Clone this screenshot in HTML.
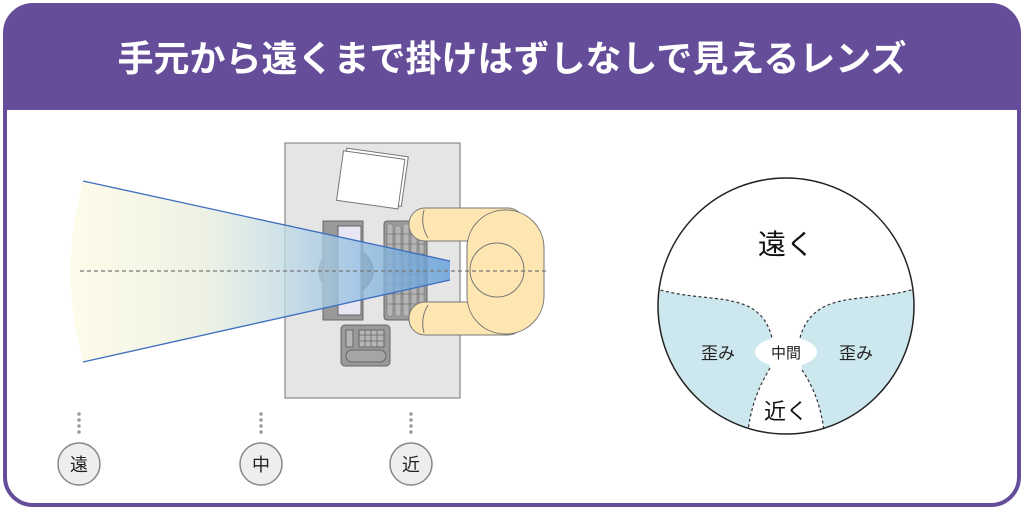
<!DOCTYPE html>
<html><head><meta charset="utf-8"><style>
html,body{margin:0;padding:0;background:#fff;}
svg{display:block;}
</style></head><body>
<svg width="1024" height="512" viewBox="0 0 1024 512" xmlns="http://www.w3.org/2000/svg" font-family="'Liberation Sans','Noto Sans CJK JP',sans-serif">
<defs>
<linearGradient id="fan" x1="0" x2="1" y1="0" y2="0">
<stop offset="0" stop-color="#fefbe4"/>
<stop offset="0.35" stop-color="#e9eedc"/>
<stop offset="0.6" stop-color="#b9d6e6"/>
<stop offset="1" stop-color="#5c9bd9"/>
</linearGradient>
<clipPath id="lens"><circle cx="786" cy="306" r="128"/></clipPath>
</defs>
<rect x="5" y="5" width="1014" height="500" rx="28" fill="#fff" stroke="#654d9a" stroke-width="4"/>
<path d="M5,110 V33 A28,28 0 0 1 33,5 H991 A28,28 0 0 1 1019,33 V110 Z" fill="#654d9a"/>
<text x="512" y="71" text-anchor="middle" font-size="36" font-weight="bold" fill="#fff" font-family="'Liberation Sans','Noto Sans CJK JP',sans-serif">手元から遠くまで掛けはずしなしで見えるレンズ</text>

<rect x="285" y="143" width="175" height="255" fill="#e5e5e5" stroke="#888" stroke-width="1.2"/>
<g transform="rotate(8 372 178)">
<rect x="343" y="152" width="62" height="50" fill="#fff" stroke="#777"/>
<rect x="340" y="155" width="62" height="50" fill="#fff" stroke="#777"/>
</g>
<ellipse cx="346" cy="271" rx="27" ry="24" fill="#8a8a8a" stroke="#666"/>
<rect x="323" y="221" width="40" height="99" fill="#999" stroke="#666"/>
<rect x="338" y="226" width="23" height="89" fill="#e8e6f5" stroke="#666"/>
<rect x="384" y="221" width="43" height="99" rx="3" fill="#9a9a9a" stroke="#666"/>
<g fill="#b5b5b5" stroke="#777" stroke-width="0.6">
<rect x="387" y="224" width="6" height="92" rx="2"/>
<rect x="395" y="226" width="6" height="90" rx="2"/>
<rect x="403" y="224" width="6" height="92" rx="2"/>
<rect x="411" y="226" width="6" height="90" rx="2"/>
<rect x="419" y="224" width="5" height="92" rx="2"/>
</g>
<g stroke="#777" stroke-width="0.8">
<line x1="386" y1="234" x2="425" y2="234"/><line x1="386" y1="244" x2="425" y2="244"/><line x1="386" y1="254" x2="425" y2="254"/>
<line x1="386" y1="264" x2="425" y2="264"/><line x1="386" y1="274" x2="425" y2="274"/><line x1="386" y1="284" x2="425" y2="284"/>
<line x1="386" y1="294" x2="425" y2="294"/><line x1="386" y1="304" x2="425" y2="304"/>
</g>
<rect x="341" y="325" width="49" height="41" rx="4" fill="#9a9a9a" stroke="#666"/>
<rect x="346" y="330" width="7" height="17" fill="#b5b5b5" stroke="#666"/>
<rect x="359" y="330" width="25" height="17" fill="#b5b5b5" stroke="#666"/>
<path d="M365,330V347M371,330V347M377,330V347M359,335H384M359,341H384" stroke="#666" stroke-width="0.8"/>
<rect x="346" y="350" width="40" height="12" rx="6" fill="#a5a5a5" stroke="#666"/>

<path d="M83,181 L450,261 L450,280 L83,362 Q58,272 83,181 Z" fill="url(#fan)" opacity="0.78"/>
<line x1="83" y1="181" x2="450" y2="261" stroke="#3f6fc0" stroke-width="1.3"/>
<line x1="83" y1="362" x2="450" y2="280" stroke="#3f6fc0" stroke-width="1.3"/>

<rect x="409" y="208" width="115" height="33" rx="16" fill="#fde6b1" stroke="#777"/>
<rect x="409" y="302" width="115" height="33" rx="16" fill="#fde6b1" stroke="#777"/>
<path d="M424,210 Q420,225 428,238 M424,333 Q420,318 428,305" fill="none" stroke="#777"/>
<rect x="467" y="210" width="77" height="124" rx="38" fill="#fde6b1" stroke="#777"/>
<circle cx="497" cy="270" r="27" fill="#fde6b1" stroke="#777"/>

<line x1="80" y1="271" x2="548" y2="271" stroke="#777" stroke-dasharray="4,3" stroke-width="1.2"/>

<g stroke="#999" stroke-width="3.5" stroke-linecap="round" stroke-dasharray="0,6">
<line x1="79" y1="414" x2="79" y2="438"/>
<line x1="261" y1="414" x2="261" y2="438"/>
<line x1="411" y1="414" x2="411" y2="438"/>
</g>
<g fill="#eeeeee" stroke="#888" stroke-width="1.5">
<circle cx="79" cy="464" r="21"/><circle cx="261" cy="464" r="21"/><circle cx="411" cy="464" r="21"/>
</g>
<g font-size="18" text-anchor="middle" fill="#222">
<text x="79" y="471">遠</text><text x="261" y="471">中</text><text x="411" y="471">近</text>
</g>

<circle cx="786" cy="306" r="128" fill="#fff"/>
<g clip-path="url(#lens)">
<path d="M650,287 C690,300 720,295 745,305 C765,313 770,330 772,338 L770,368 C760,385 750,405 747,440 L640,440 Z" fill="#cde7ee"/>
<path d="M922,287 C880,300 852,295 828,305 C808,313 802,330 800,338 L802,370 C812,385 822,405 825,440 L930,440 Z" fill="#cde7ee"/>
<g fill="none" stroke="#333" stroke-width="1.2" stroke-dasharray="3,2.5">
<path d="M650,287 C690,300 720,295 745,305 C765,313 770,330 772,338"/>
<path d="M770,368 C760,385 750,405 747,440"/>
<path d="M922,287 C880,300 852,295 828,305 C808,313 802,330 800,338"/>
<path d="M802,370 C812,385 822,405 825,440"/>
</g>
<ellipse cx="786" cy="352" rx="31" ry="15" fill="#fff"/>
</g>
<circle cx="786" cy="306" r="128" fill="none" stroke="#222" stroke-width="1.5"/>
<text x="786" y="254" text-anchor="middle" font-size="28" fill="#111">遠く</text>
<text x="718" y="359" text-anchor="middle" font-size="17" fill="#222">歪み</text>
<text x="856" y="359" text-anchor="middle" font-size="17" fill="#222">歪み</text>
<text x="786" y="358" text-anchor="middle" font-size="15" fill="#222">中間</text>
<text x="786" y="419" text-anchor="middle" font-size="22" fill="#111">近く</text>
</svg>
</body></html>
